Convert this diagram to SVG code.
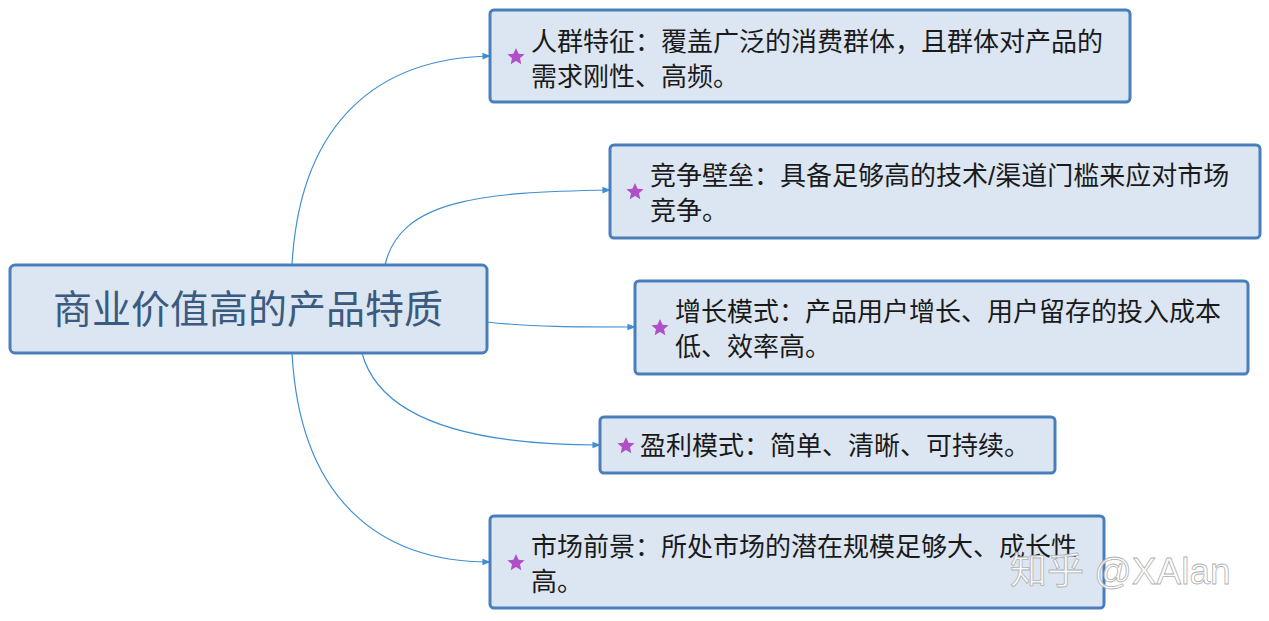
<svg xmlns="http://www.w3.org/2000/svg" width="1269" height="621" viewBox="0 0 1269 621">
<style>
.box{fill:#dce6f2;stroke:#4a7ebb;stroke-width:3}
.t{font-family:"Liberation Sans","Noto Sans CJK SC",sans-serif;font-size:26px;fill:#1a1a1a}
.star{fill:#b050c8}
.c{fill:none;stroke:#3f8fd2;stroke-width:1.2;marker-end:url(#a)}
</style>
<defs>
<marker id="a" viewBox="0 0 10 10" refX="9" refY="5" markerWidth="7" markerHeight="7" orient="auto"><path d="M0,1 L10,5 L0,9 z" fill="#3f8fd2"/></marker>
<polygon id="s" points="0,-9 2.6,-3.2 8.6,-2.8 4,1.2 5.3,7.3 0,4 -5.3,7.3 -4,1.2 -8.6,-2.8 -2.6,-3.2" class="star"/>
</defs>
<rect width="1269" height="621" fill="#fff"/>
<g id="connectors">
<path class="c" d="M292,265 C300,120 380,58 490,56"/>
<path class="c" d="M385,265 C400,200 480,192 610,190"/>
<path class="c" d="M487,322 C530,327 580,327 635,327"/>
<path class="c" d="M362,353 C380,420 470,445 600,445"/>
<path class="c" d="M292,353 C300,500 380,562 490,562"/>
</g>
<g id="main"><rect class="box" x="10" y="265" width="477" height="88" rx="5"/>
<text x="248" y="323" text-anchor="middle" font-family="'Liberation Serif','Noto Sans CJK SC',serif" font-size="39" fill="#3b5a80">商业价值高的产品特质</text></g>
<g id="n1"><rect class="box" x="490" y="10" width="640" height="92" rx="4"/><use href="#s" x="516" y="57"/>
<text class="t" x="531" y="51">人群特征：覆盖广泛的消费群体，且群体对产品的</text><text class="t" x="531" y="86">需求刚性、高频。</text></g>
<g id="n2"><rect class="box" x="610" y="145" width="650" height="93" rx="4"/><use href="#s" x="635" y="192"/>
<text class="t" x="650" y="185">竞争壁垒：具备足够高的技术/渠道门槛来应对市场</text><text class="t" x="650" y="220">竞争。</text></g>
<g id="n3"><rect class="box" x="635" y="281" width="613" height="93" rx="4"/><use href="#s" x="660" y="328"/>
<text class="t" x="675" y="321">增长模式：产品用户增长、用户留存的投入成本</text><text class="t" x="675" y="356">低、效率高。</text></g>
<g id="n4"><rect class="box" x="600" y="417" width="455" height="56" rx="4"/><use href="#s" x="626" y="446"/>
<text class="t" x="640" y="455">盈利模式：简单、清晰、可持续。</text></g>
<g id="n5"><rect class="box" x="490" y="516" width="614" height="92" rx="4"/><use href="#s" x="516" y="563"/>
<text class="t" x="531" y="556">市场前景：所处市场的潜在规模足够大、成长性</text><text class="t" x="531" y="591">高。</text></g>
<text x="1010" y="584" font-family="'Liberation Sans','Noto Sans CJK SC',sans-serif" font-size="37" fill="#ffffff" fill-opacity="0.85" stroke="#b0b0b0" stroke-width="0.8">知乎 @XAlan</text>
</svg>
